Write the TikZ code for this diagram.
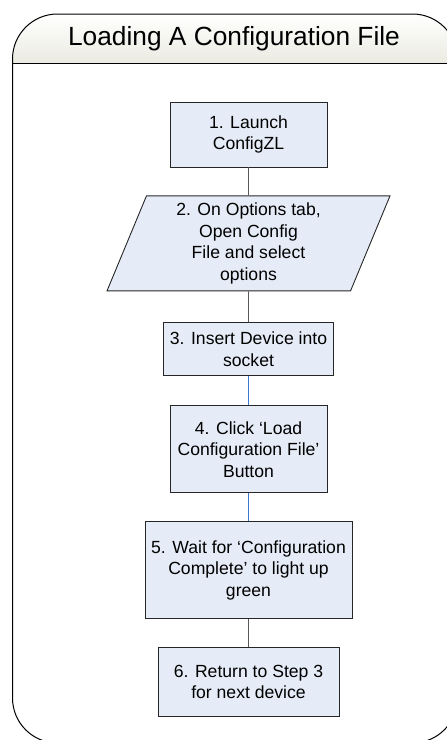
\documentclass[tikz,border=0pt]{standalone}
\usepackage{fontspec}
\setmainfont{Liberation Sans}
\usepackage{tikz}
\usetikzlibrary{arrows,shapes,positioning}
\definecolor{stepfill}{HTML}{E6ECF7}
\definecolor{titlegray}{HTML}{EBEBE2}
\definecolor{flowblue}{HTML}{3A78D0}
\tikzset{
  stepbox/.style={draw=black!85, line width=0.9pt, fill=stepfill, align=center, inner sep=0pt, font=\fontsize{17.6}{21.5}\selectfont},
  iobox/.style={stepbox, trapezium, trapezium left angle=64, trapezium right angle=116, trapezium stretches body},
  grayline/.style={draw=black!65, line width=0.9pt},
  blueline/.style={draw=flowblue, line width=0.9pt}
}

\begin{document}
\begin{tikzpicture}[x=1pt, y=-1pt, node distance=28pt]
  \useasboundingbox (0,0) rectangle (447,740);
  \clip (0,0) rectangle (447,740);
  \begin{scope}
    \clip[rounded corners=45pt] (12.5,14) rectangle (457.5,743);
    \shade[top color=white, bottom color=titlegray] (0,14) rectangle (460,63);
  \end{scope}
  \draw[line width=1pt, rounded corners=45pt] (12.5,14) rectangle (457.5,743);
  \draw[line width=1pt] (12.5,63) -- (460,63);
  \node[font=\fontsize{26.3}{30}\selectfont] (title) at (234,38.5) {Loading A Configuration File};
  \node[stepbox, minimum width=157pt, minimum height=65pt] (launch) at (248.5,134.5) {1. Launch\\ConfigZL};
  \node[iobox, minimum width=283pt, minimum height=95pt, below=of launch] (options) {2. On Options tab,\\Open Config\\File and select\\options};
  \node[stepbox, minimum width=170pt, minimum height=53pt, below=31pt of options] (insert) {3. Insert Device into\\socket};
  \node[stepbox, minimum width=157pt, minimum height=87pt, below=29pt of insert] (load) {4. Click ‘Load\\Configuration File’\\Button};
  \node[stepbox, minimum width=207pt, minimum height=97pt, below=of load] (wait) {5. Wait for ‘Configuration\\Complete’ to light up\\green};
  \node[stepbox, minimum width=181pt, minimum height=69pt, below=of wait] (next) {6. Return to Step 3\\for next device};
  \draw[grayline] (launch) -- (options);
  \draw[grayline] (options) -- (insert);
  \draw[blueline] (insert) -- (load);
  \draw[blueline] (load) -- (wait);
  \draw[grayline] (wait) -- (next);
\end{tikzpicture}
\end{document}
